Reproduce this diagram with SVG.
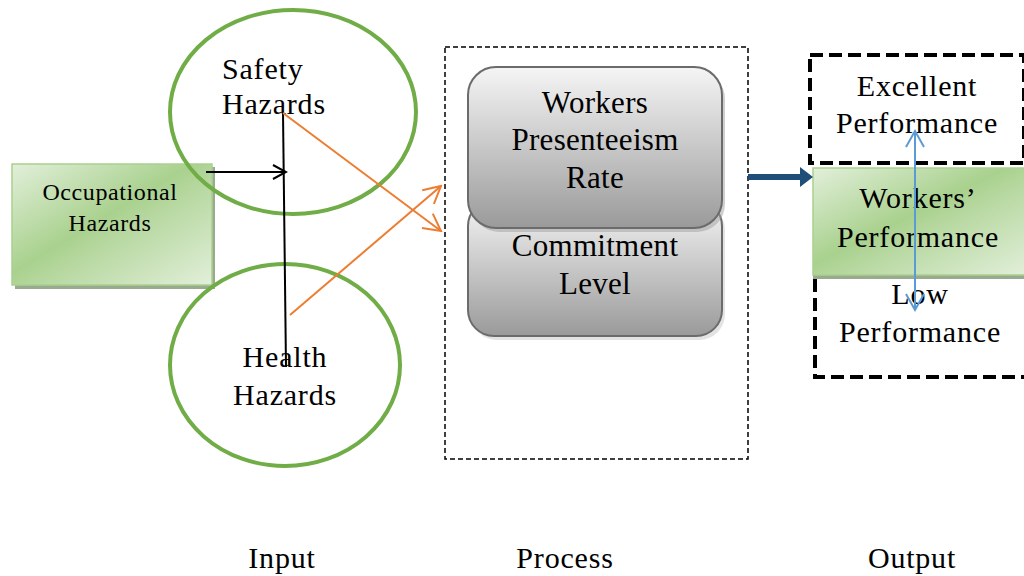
<svg xmlns="http://www.w3.org/2000/svg" width="1024" height="576" viewBox="0 0 1024 576">
<defs>
<style>
.t{font-family:"Liberation Serif","Times New Roman",serif;fill:#000;text-anchor:middle}
.f30{font-size:30px;letter-spacing:0.8px}
.ell{fill:none;stroke:#70AD47;stroke-width:4}
.green{fill:url(#gg);stroke:#A9D18E;stroke-width:1.5}
.shadow{fill:#9AAA8E}
.gray{fill:url(#gr);stroke:#6B6B6B;stroke-width:2}
.blk{stroke:#000;stroke-width:2;fill:none}
.org{stroke:#ED7D31;stroke-width:2;fill:none}
.blu{stroke:#5B9BD5;stroke-width:2;fill:none}
</style>
<linearGradient id="gg" x1="0" y1="0" x2="1" y2="1">
<stop offset="0" stop-color="#E2EFDA"/>
<stop offset="0.45" stop-color="#A9D18E"/>
<stop offset="0.55" stop-color="#B5D79E"/>
<stop offset="1" stop-color="#E2EFDA"/>
</linearGradient>
<linearGradient id="gr" x1="0" y1="0" x2="0" y2="1">
<stop offset="0" stop-color="#F5F5F5"/>
<stop offset="1" stop-color="#9A9A9A"/>
</linearGradient>
<marker id="ab" markerWidth="16" markerHeight="16" refX="14" refY="8" orient="auto" markerUnits="userSpaceOnUse"><path d="M1,1 L14,8 L1,15" fill="none" stroke="#000" stroke-width="2"/></marker>
<marker id="ao" markerWidth="20" markerHeight="20" refX="18" refY="10" orient="auto" markerUnits="userSpaceOnUse"><path d="M1,1 L18,10 L1,19" fill="none" stroke="#ED7D31" stroke-width="2"/></marker>
<marker id="abl" markerWidth="20" markerHeight="20" refX="17" refY="10" orient="auto-start-reverse" markerUnits="userSpaceOnUse"><path d="M1,1 L17,10 L1,19" fill="none" stroke="#5B9BD5" stroke-width="2"/></marker>
</defs>
<rect width="1024" height="576" fill="#fff"/>

<g id="process-box"><rect x="445" y="47" width="303" height="412" fill="none" stroke="#000" stroke-width="1.5" stroke-dasharray="5,3"/></g>

<g id="occupational-hazards">
<rect class="shadow" x="15" y="167" width="200" height="122"/>
<rect class="green" x="12" y="164" width="200" height="121"/>
<text class="t" font-size="24" letter-spacing="0.6" x="110" y="200">Occupational</text>
<text class="t" font-size="24" letter-spacing="0.6" x="110" y="231">Hazards</text>
</g>

<g id="safety-hazards">
<ellipse class="ell" cx="293" cy="112" rx="123" ry="102"/>
<text class="t f30" x="222" y="79" style="text-anchor:start">Safety</text>
<text class="t f30" x="222" y="114" style="text-anchor:start">Hazards</text>
</g>

<g id="health-hazards">
<ellipse class="ell" cx="285" cy="365" rx="115" ry="101"/>
<text class="t f30" x="285" y="367">Health</text>
<text class="t f30" x="285" y="405">Hazards</text>
</g>

<g id="commitment-level">
<rect x="471" y="204" width="254" height="136" rx="26" fill="#C8C8C8" opacity="0.5"/>
<rect class="gray" x="468" y="200" width="254" height="136" rx="26"/>
<text class="t" font-size="31" letter-spacing="0.3" x="595" y="256">Commitment</text>
<text class="t" font-size="31" letter-spacing="0.3" x="595" y="294">Level</text>
</g>

<g id="presenteeism">
<rect x="471" y="71" width="254" height="161" rx="28" fill="#A0A0A0" opacity="0.5"/>
<rect class="gray" x="468" y="67" width="254" height="161" rx="28"/>
<text class="t" font-size="31" letter-spacing="0.3" x="595" y="113">Workers</text>
<text class="t" font-size="31" letter-spacing="0.3" x="595" y="150">Presenteeism</text>
<text class="t" font-size="31" letter-spacing="0.3" x="595" y="188">Rate</text>
</g>

<g id="excellent-performance">
<rect x="810" y="55" width="214" height="108" fill="#fff" stroke="#000" stroke-width="4" stroke-dasharray="13,6"/>
<text class="t f30" x="917" y="96">Excellent</text>
<text class="t f30" x="917" y="133">Performance</text>
</g>

<g id="low-performance">
<rect x="815" y="240" width="212" height="137" fill="#fff" stroke="#000" stroke-width="4" stroke-dasharray="13,6"/>
<text class="t f30" x="920" y="304">Low</text>
<text class="t f30" x="920" y="342">Performance</text>
</g>

<g id="workers-performance">
<rect class="shadow" x="813" y="172" width="214" height="107"/>
<rect class="green" x="813" y="168" width="214" height="107"/>
<text class="t f30" x="918" y="208">Workers’</text>
<text class="t f30" x="918" y="247">Performance</text>
</g>

<g id="labels">
<text class="t f30" x="282" y="568">Input</text>
<text class="t f30" x="565" y="568">Process</text>
<text class="t f30" x="912" y="568">Output</text>
</g>

<g id="connectors">
<line class="blk" x1="206" y1="172" x2="286" y2="172" marker-end="url(#ab)"/>
<line class="blk" x1="283" y1="113" x2="286" y2="367"/>
<line class="org" x1="283" y1="113" x2="441" y2="231" marker-end="url(#ao)"/>
<line class="org" x1="290" y1="315" x2="441" y2="186" marker-end="url(#ao)"/>
<line x1="748" y1="177" x2="802" y2="177" stroke="#1F4E79" stroke-width="6"/>
<path d="M800,167 L813,177 L800,187 Z" fill="#1F4E79"/>
<line class="blu" x1="915" y1="131" x2="915" y2="310" marker-start="url(#abl)" marker-end="url(#abl)"/>
</g>
</svg>
